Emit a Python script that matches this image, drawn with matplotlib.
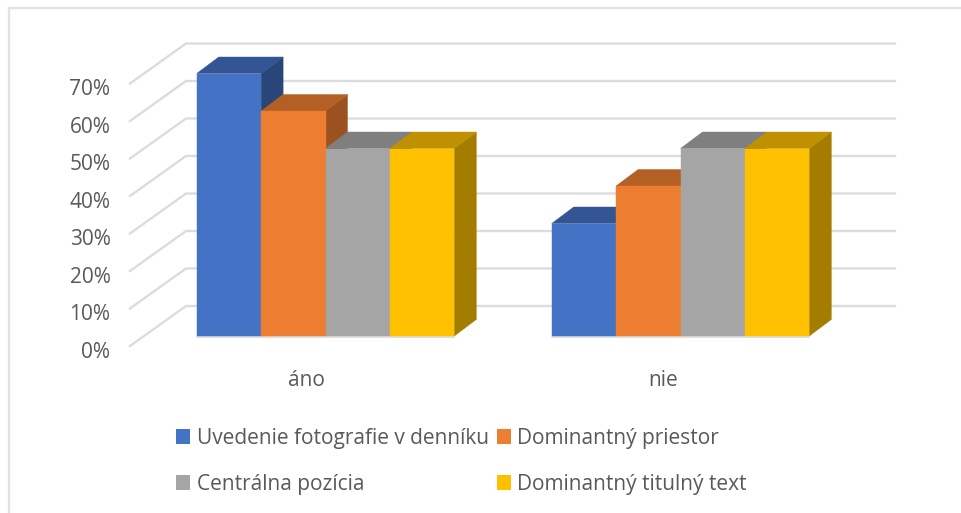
import numpy as np
import matplotlib
matplotlib.use('Agg')
import matplotlib.pyplot as plt
from matplotlib.patches import Polygon, Patch

plt.rcParams['font.family'] = ['Open Sans', 'DejaVu Sans']

categories = ['áno', 'nie']
series = ['Uvedenie fotografie v denníku', 'Dominantný priestor',
          'Centrálna pozícia', 'Dominantný titulný text']
ano = [70, 60, 50, 50]
nie = [30, 40, 50, 50]
ticks = [0, 10, 20, 30, 40, 50, 60, 70]

front = ['#4472c4', '#ed7d31', '#a5a5a5', '#ffc000']
top = ['#335593', '#b45f24', '#7f7f7f', '#bf9000']
side = ['#2a4679', '#9c5220', '#6f6f6f', '#a37c00']
text_col = '#595959'
grid_col = '#dcdcdc'
border_col = '#e2e2e2'

fig = plt.figure(figsize=(9.61, 5.13), dpi=100)
ax = fig.add_axes([0, 0, 1, 1])
# one x unit is the distance between the two groups, y is in percent
ax.set_xlim(-325.5 / 355, (961 - 325.5) / 355)
ax.set_ylim(-177 / 3.75, 336 / 3.75)
ax.axis('off')

bar_w = 64.4 / 355
dx = 22 / 355
dy = 4.4

# left end of the side wall and the back wall
wall_x0 = -139.5 / 355
wall_x1 = 569.5 / 355
wall_dy = 8.0
side_x0 = -195.5 / 355
side_dy = -2.67

for t in ticks:
    ax.plot([side_x0, wall_x0, wall_x1],
            [t + side_dy, t + wall_dy, t + wall_dy],
            color=grid_col, lw=1.7, solid_joinstyle='miter', zorder=1)
    ax.text(-215 / 355, t + side_dy - 1.7, f'{t}%', ha='right', va='center',
            fontsize=15, color=text_col, zorder=5)

for i, vals in enumerate([ano, nie]):
    left = i - 2 * bar_w
    # thin floor edge under the front faces
    ax.plot([left, left + 4 * bar_w], [-0.25, -0.25], color='#d9d9d9', lw=1.2, zorder=2)
    for j, v in enumerate(vals):
        x0 = left + j * bar_w
        x1 = x0 + bar_w
        ax.add_patch(Polygon([(x1, 0), (x1 + dx, dy), (x1 + dx, v + dy), (x1, v)],
                             facecolor=side[j], edgecolor=side[j], lw=0.3, zorder=3 + j * 0.1))
        ax.add_patch(Polygon([(x0, v), (x0 + dx, v + dy), (x1 + dx, v + dy), (x1, v)],
                             facecolor=top[j], edgecolor=top[j], lw=0.3, zorder=3 + j * 0.1))
        ax.add_patch(Polygon([(x0, 0), (x0, v), (x1, v), (x1, 0)],
                             facecolor=front[j], edgecolor=front[j], lw=0.3,
                             zorder=3.05 + j * 0.1))
    ax.text(i - 0.055 if i == 0 else i - 0.05, -12.0, categories[i], ha='center', va='center',
            fontsize=15, color=text_col)

# chart frame, only top and left edges are visible
ax.plot([8.5 / 355 - 325.5 / 355] * 2, [-177 / 3.75, 328 / 3.75], color=border_col, lw=1.6)
ax.plot([8.5 / 355 - 325.5 / 355, 635.5 / 355], [328 / 3.75, 328 / 3.75], color=border_col, lw=1.6)

# matplotlib fills legend columns first
order = [0, 2, 1, 3]
handles = [Patch(facecolor=front[k], edgecolor='none', label=series[k]) for k in order]
ax.legend(handles=handles, ncols=2, frameon=False, loc='upper left',
          bbox_to_anchor=(170 / 961, 1 - 421.5 / 513), fontsize=15, labelcolor=text_col,
          handlelength=0.68, handleheight=0.68, handletextpad=0.3,
          columnspacing=0.38, labelspacing=1.2, borderpad=0.3, borderaxespad=0)

fig.savefig('out.png', dpi=100)
